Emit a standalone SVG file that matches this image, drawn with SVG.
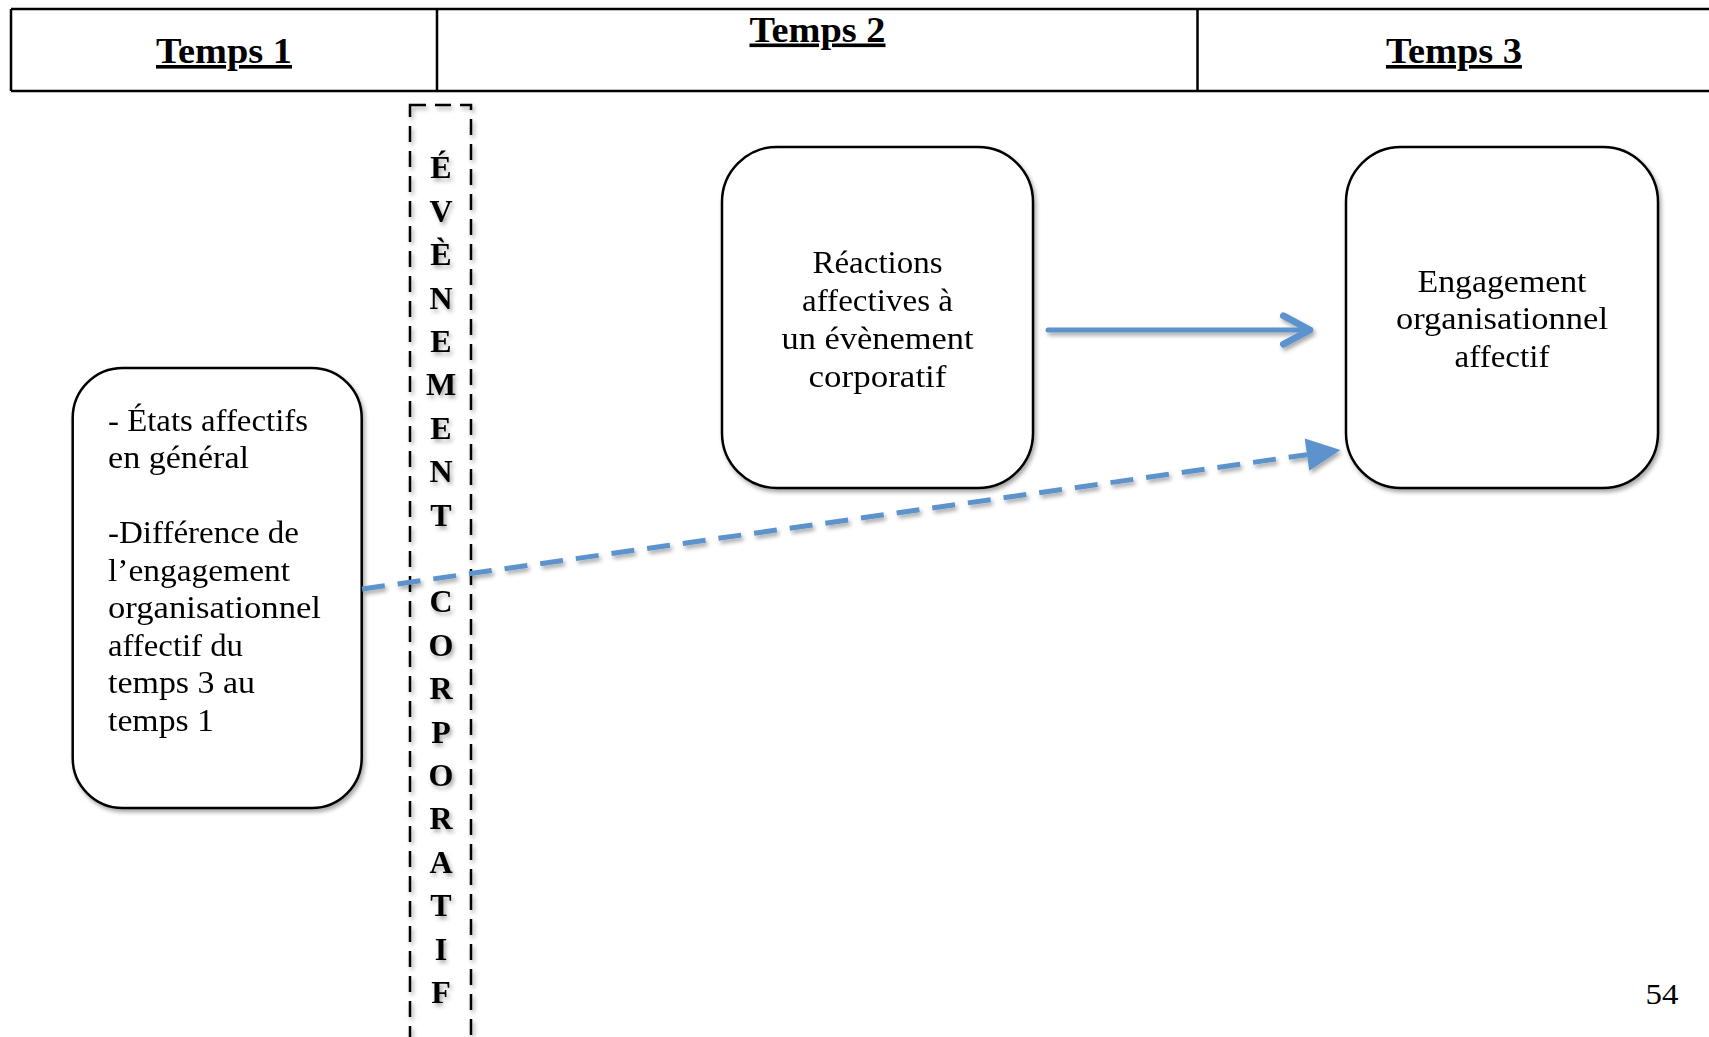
<svg xmlns="http://www.w3.org/2000/svg" width="1709" height="1037" viewBox="0 0 1709 1037">
<defs>
<style>
text{font-family:"Liberation Serif","Times New Roman",serif;fill:#000}
.hdr{font-size:36px;font-weight:bold;text-anchor:middle;text-decoration:underline}
.grid{stroke:#000;stroke-width:2.5;fill:none}
.box{fill:#fff;stroke:#000;stroke-width:2.5}
.lbl{font-size:31px}
.mid{text-anchor:middle}
.vl{font-size:32px;font-weight:bold;text-anchor:middle}
.evt{fill:none;stroke:#000;stroke-width:2.5;stroke-dasharray:16 9}
.conn{stroke:#5b93cc;stroke-width:5;fill:none}
.dash{stroke-dasharray:23 13}
</style>
<filter id="sh" x="-10%" y="-10%" width="130%" height="130%">
<feDropShadow dx="2" dy="3" stdDeviation="2" flood-color="#000" flood-opacity="0.35"/>
</filter>
<marker id="chev" markerUnits="userSpaceOnUse" orient="auto" markerWidth="40" markerHeight="40" refX="0" refY="0" viewBox="-25 -15 30 30" overflow="visible">
<path d="M-20,-10.7 L0,0 L-20,10.7" fill="none" stroke="#5b93cc" stroke-width="5" stroke-linecap="round" stroke-linejoin="round"/>
</marker>
<marker id="tri" markerUnits="userSpaceOnUse" orient="auto" markerWidth="40" markerHeight="40" refX="0" refY="0" viewBox="-2 -15 32 30" overflow="visible">
<path d="M0,-13 L27,0 L0,13 Z" fill="#5b93cc"/>
</marker>
</defs>
<rect width="1709" height="1037" fill="#fff"/>

<g id="header">
<path class="grid" d="M11,9 H1709 M11,91 H1709 M11,9 V91 M437,9 V91 M1197.5,9 V91"/>
<text class="hdr" x="224" y="63" textLength="136" lengthAdjust="spacingAndGlyphs">Temps 1</text>
<text class="hdr" x="817.5" y="41.5" textLength="136" lengthAdjust="spacingAndGlyphs">Temps 2</text>
<text class="hdr" x="1454" y="63" textLength="136" lengthAdjust="spacingAndGlyphs">Temps 3</text>
</g>

<g id="evenement" filter="url(#sh)">
<rect class="evt" x="410" y="105" width="61" height="970"/>
<text class="vl" x="441" y="178.3">É</text>
<text class="vl" x="441" y="221.7">V</text>
<text class="vl" x="441" y="265.1">È</text>
<text class="vl" x="441" y="308.5">N</text>
<text class="vl" x="441" y="351.9">E</text>
<text class="vl" x="441" y="395.3">M</text>
<text class="vl" x="441" y="438.7">E</text>
<text class="vl" x="441" y="482.1">N</text>
<text class="vl" x="441" y="525.5">T</text>
<text class="vl" x="441" y="612.3">C</text>
<text class="vl" x="441" y="655.7">O</text>
<text class="vl" x="441" y="699.1">R</text>
<text class="vl" x="441" y="742.5">P</text>
<text class="vl" x="441" y="785.9">O</text>
<text class="vl" x="441" y="829.3">R</text>
<text class="vl" x="441" y="872.7">A</text>
<text class="vl" x="441" y="916.1">T</text>
<text class="vl" x="441" y="959.5">I</text>
<text class="vl" x="441" y="1002.9">F</text>
</g>

<g id="temps1" filter="url(#sh)">
<rect class="box" x="72.7" y="368" width="289" height="440" rx="50" ry="50"/>
<text class="lbl" x="108" y="430.7" textLength="200" lengthAdjust="spacingAndGlyphs">- États affectifs</text>
<text class="lbl" x="108" y="468" textLength="141" lengthAdjust="spacingAndGlyphs">en général</text>
<text class="lbl" x="108" y="543" textLength="191" lengthAdjust="spacingAndGlyphs">-Différence de</text>
<text class="lbl" x="108" y="581" textLength="182" lengthAdjust="spacingAndGlyphs">l’engagement</text>
<text class="lbl" x="108" y="618" textLength="213" lengthAdjust="spacingAndGlyphs">organisationnel</text>
<text class="lbl" x="108" y="656" textLength="135" lengthAdjust="spacingAndGlyphs">affectif du</text>
<text class="lbl" x="108" y="693" textLength="147" lengthAdjust="spacingAndGlyphs">temps 3 au</text>
<text class="lbl" x="108" y="731" textLength="106" lengthAdjust="spacingAndGlyphs">temps 1</text>
</g>

<g id="reactions" filter="url(#sh)">
<rect class="box" x="722" y="147" width="311" height="341" rx="55" ry="55"/>
<text class="lbl mid" x="877.5" y="273.3" textLength="130" lengthAdjust="spacingAndGlyphs">Réactions</text>
<text class="lbl mid" x="877.5" y="311" textLength="151" lengthAdjust="spacingAndGlyphs">affectives à</text>
<text class="lbl mid" x="877.5" y="348.5" textLength="192" lengthAdjust="spacingAndGlyphs">un évènement</text>
<text class="lbl mid" x="877.5" y="386.5" textLength="138" lengthAdjust="spacingAndGlyphs">corporatif</text>
</g>

<g id="engagement" filter="url(#sh)">
<rect class="box" x="1346" y="147" width="312" height="341" rx="55" ry="55"/>
<text class="lbl mid" x="1502" y="292.3" textLength="169" lengthAdjust="spacingAndGlyphs">Engagement</text>
<text class="lbl mid" x="1502" y="329.3" textLength="212" lengthAdjust="spacingAndGlyphs">organisationnel</text>
<text class="lbl mid" x="1502" y="366.5" textLength="95" lengthAdjust="spacingAndGlyphs">affectif</text>
</g>

<g id="connectors" filter="url(#sh)">
<line class="conn" x1="1048" y1="330" x2="1310" y2="330" stroke-linecap="round" marker-end="url(#chev)"/>
<line class="conn dash" x1="362" y1="589" x2="1307" y2="454.7" marker-end="url(#tri)"/>
</g>

<text id="page" x="1662" y="1004" text-anchor="middle" font-size="30" textLength="33" lengthAdjust="spacingAndGlyphs">54</text>
</svg>
